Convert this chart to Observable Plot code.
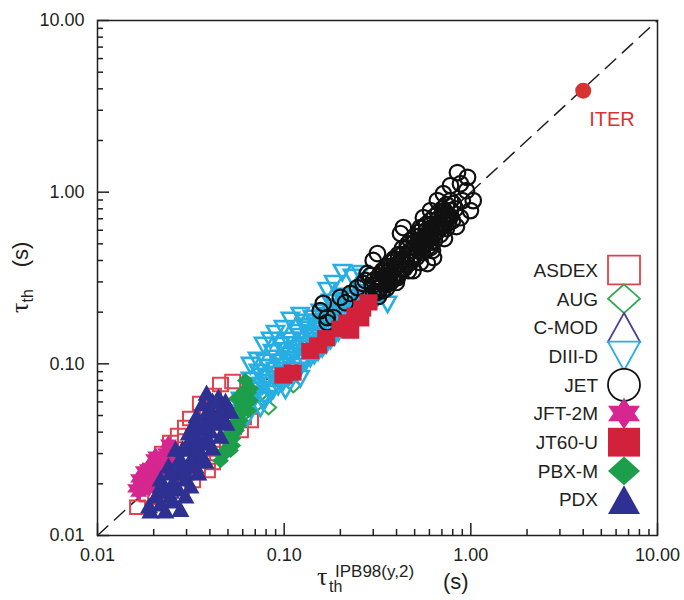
<!DOCTYPE html>
<html><head><meta charset="utf-8">
<script src="https://cdn.jsdelivr.net/npm/d3@7"></script>
<script src="https://cdn.jsdelivr.net/npm/@observablehq/plot@0.6"></script>
<style>body{margin:0;background:#fff}#chart{width:684px;height:600px}</style>
</head><body><div id="chart"></div>
<script>
// ---- data: [tau_IPB98, tau_th] in seconds ----
const deviceNames = ["ASDEX","AUG","C-MOD","DIII-D","JET","JFT-2M","JT60-U","PBX-M","PDX"];
const majorTicks = [0.01, 0.1, 1, 10];
const minorTicks = [0.02,0.03,0.04,0.05,0.06,0.07,0.08,0.09,0.2,0.3,0.4,0.5,0.6,0.7,0.8,0.9,2,3,4,5,6,7,8,9];
const diagonal = [0.01, 10];
const ITER = [[4.0, 3.9]];

const ASDEX = [[0.0164,0.0146],[0.0185,0.0173],[0.0205,0.0167],[0.0223,0.030],[0.0246,0.0348],[0.0271,0.0382],[0.0296,0.0426],[0.0356,0.0587],[0.0388,0.052],[0.0456,0.0757],[0.053,0.0788],[0.0281,0.0191],[0.0323,0.0209],[0.0388,0.0239],[0.044,0.030],[0.0497,0.0357],[0.0535,0.0426],[0.0605,0.0487],[0.066,0.0467],[0.0343,0.0233],[0.0413,0.0266],[0.0192,0.0239],[0.0213,0.0273],[0.0315,0.048],[0.0418,0.0653],[0.0583,0.0409],[0.0231,0.0171]];
const AUG = [[0.0825,0.0556],[0.112,0.0747],[0.0765,0.068],[0.093,0.0799],[0.122,0.1045],[0.149,0.1225],[0.177,0.146],[0.0702,0.0571],[0.062,0.052]];
const CMOD = [[0.0296,0.0239],[0.0335,0.0334],[0.0379,0.0437],[0.0246,0.0183]];
const DIIID = [[0.0702,0.0653],[0.0765,0.0747],[0.0815,0.082],[0.0898,0.0914],[0.0979,0.102],[0.108,0.112],[0.120,0.1225],[0.130,0.137],[0.1415,0.150],[0.156,0.165],[0.173,0.184],[0.192,0.201],[0.210,0.222],[0.232,0.243],[0.256,0.26],
 [0.0765,0.0611],[0.0845,0.067],[0.093,0.0737],[0.105,0.082],[0.117,0.0914],[0.130,0.102],[0.145,0.112],[0.16,0.1225],[0.177,0.137],[0.195,0.152],[0.221,0.174],[0.25,0.199],[0.283,0.228],[0.32,0.247],
 [0.066,0.0799],[0.0728,0.089],[0.0794,0.102],[0.0866,0.116],[0.0955,0.128],[0.105,0.137],[0.117,0.152],[0.128,0.165],[0.1415,0.184],[0.156,0.199],[0.177,0.228],[0.2,0.247],
 [0.205,0.34],[0.184,0.293],[0.256,0.335],[0.232,0.319],[0.17,0.267],[0.13,0.174],[0.099,0.16],[0.0898,0.150],[0.0845,0.137],[0.0719,0.1045],[0.066,0.0977],[0.0775,0.128],[0.108,0.179],[0.122,0.191],
 [0.34,0.257],[0.358,0.222],[0.308,0.234],
 [0.0635,0.0487],[0.0562,0.0409],[0.066,0.0571],[0.1016,0.0699],[0.122,0.082],[0.0583,0.0611],
 [0.0728,0.0699],[0.0803,0.0778],[0.0866,0.0866],[0.0944,0.0964],[0.1029,0.106],[0.1132,0.116],[0.1234,0.129],[0.1364,0.142],[0.149,0.156],[0.164,0.174],[0.181,0.194],[0.2,0.213],[0.221,0.234],[0.244,0.253],
 [0.0794,0.0627],[0.0877,0.0708],[0.099,0.0788],[0.111,0.0866],[0.1234,0.0964],[0.138,0.1075],[0.152,0.117],[0.168,0.129],[0.186,0.144],[0.208,0.163],[0.235,0.186],[0.265,0.213],
 [0.0685,0.0747],[0.0756,0.0844],[0.0825,0.0952],[0.0909,0.1075],[0.1004,0.119],[0.1132,0.129],[0.122,0.144],[0.1348,0.159],[0.149,0.174],[0.166,0.191],[0.188,0.213],[0.213,0.234],
 [0.0746,0.0549],[0.066,0.0653],[0.0598,0.052],[0.0555,0.0467]];
const JET = [[0.297,0.286],[0.32,0.306],[0.345,0.323],[0.328,0.279],[0.362,0.349],[0.38,0.314],[0.394,0.374],[0.409,0.336],[0.42,0.40],[0.441,0.359],[0.457,0.427],[0.475,0.389],[0.487,0.457],[0.511,0.416],[0.524,0.489],[0.55,0.445],[0.564,0.523],[0.593,0.482],[0.608,0.567],[0.638,0.523],[0.654,0.614],[0.687,0.567],[0.705,0.665],[0.74,0.614],[0.759,0.731],[0.797,0.683],[0.827,0.80],[0.722,0.781],[0.67,0.70],[0.578,0.598],[0.499,0.51],[0.43,0.433],[0.371,0.369],[0.353,0.29],[0.399,0.298],[0.463,0.349],[0.537,0.389],[0.623,0.457],[0.722,0.537],[0.837,0.631],
 [0.337,0.34],[0.389,0.40],[0.457,0.47],[0.524,0.552],[0.608,0.648],[0.705,0.76],[0.312,0.26],[0.362,0.306],[0.42,0.359],[0.487,0.421],[0.564,0.496],[0.654,0.582],[0.759,0.665],
 [0.848,1.30],[0.96,1.22],[0.88,1.12],[1.03,0.893],[0.713,0.98],[0.662,0.893],[0.807,0.856],[0.88,0.71],[0.608,0.781],[0.557,0.71],[0.537,0.622],[0.435,0.622],[0.42,0.574],[0.608,0.476],[0.631,0.416],[0.585,0.384],[0.49,0.349],[0.404,0.318],[0.358,0.294],[0.316,0.439],[0.30,0.40],[0.279,0.336],[0.265,0.294],[0.162,0.225],[0.156,0.204],[0.17,0.186],[0.17,0.174],[0.2,0.244],[0.226,0.257],[0.247,0.278],[0.272,0.306],[0.29,0.327],[0.948,1.02],[0.995,0.781],[0.90,0.893],[0.778,1.092],[0.184,0.186],[0.213,0.227],
 [0.301,0.306],[0.301,0.26],[0.32,0.323],[0.32,0.275],[0.32,0.247],[0.337,0.349],[0.337,0.298],[0.337,0.267],[0.353,0.369],[0.353,0.314],[0.353,0.275],[0.371,0.389],[0.371,0.331],[0.371,0.298],[0.389,0.41],[0.389,0.359],[0.389,0.314],[0.409,0.433],[0.409,0.379],[0.409,0.331],[0.43,0.47],[0.43,0.40],[0.43,0.359],[0.457,0.496],[0.457,0.433],[0.457,0.379],[0.475,0.523],[0.475,0.457],[0.475,0.41],[0.499,0.552],[0.499,0.482],[0.499,0.433],[0.524,0.582],[0.524,0.509],[0.524,0.457],[0.55,0.614],[0.55,0.537],[0.55,0.482],[0.578,0.648],[0.578,0.567],[0.578,0.509],[0.608,0.683],[0.608,0.598],[0.608,0.537],[0.638,0.721],[0.638,0.631],[0.638,0.567],[0.67,0.761],[0.67,0.665],[0.67,0.598],[0.705,0.80],[0.705,0.70],[0.705,0.631],[0.74,0.846],[0.74,0.741],[0.74,0.683],[0.778,0.893],[0.778,0.781],[0.778,0.721]];
const JFT2M = [[0.017,0.0196],[0.0181,0.0215],[0.0192,0.0233],[0.0205,0.0256],[0.0218,0.0281],[0.0231,0.0305],[0.0246,0.0326],[0.0166,0.0215],[0.0189,0.0188],[0.0197,0.0209],[0.0213,0.0233],[0.0176,0.0239],[0.0223,0.0256],[0.0205,0.0292],[0.024,0.0273],
 [0.016,0.0188],[0.0174,0.0209],[0.0192,0.0215],[0.0185,0.0246],[0.0205,0.0239],[0.0218,0.0266],[0.02,0.0281],[0.0226,0.0292],[0.0246,0.0305],[0.024,0.0343],[0.0166,0.0178],[0.0181,0.0188]];
const JT60U = [[0.099,0.0855],[0.111,0.089],[0.138,0.119],[0.152,0.128],[0.168,0.141],[0.2,0.16],[0.218,0.174],[0.241,0.191],[0.262,0.21],[0.283,0.228],[0.256,0.184],[0.226,0.156]];
const PBXM = [[0.0467,0.0292],[0.0503,0.0326],[0.053,0.0367],[0.0555,0.0409],[0.0583,0.0467],[0.0605,0.0534],[0.0628,0.0611],[0.0644,0.068],[0.0569,0.0534],[0.053,0.0437],[0.0491,0.0357],[0.0612,0.0699],[0.066,0.0611],[0.0555,0.0627],[0.0516,0.0313],
 [0.0485,0.0313],[0.053,0.0334],[0.0516,0.0398],[0.0569,0.0437],[0.0548,0.05],[0.0598,0.0571],[0.0644,0.0534],[0.0583,0.0653],[0.066,0.0718],[0.062,0.0799],[0.0456,0.0273]];
const PDX = [[0.0189,0.015],[0.0218,0.0154],[0.0252,0.016],[0.0231,0.0183],[0.0218,0.0215],[0.0252,0.0204],[0.0271,0.0239],[0.024,0.0256],[0.0278,0.0281],[0.0308,0.0266],[0.0285,0.0321],[0.0315,0.0334],[0.0335,0.0305],[0.0347,0.0367],[0.0308,0.0398],[0.0323,0.0437],[0.0356,0.0421],[0.0379,0.048],[0.0339,0.05],[0.0393,0.0549],[0.0413,0.0611],[0.0445,0.0645],[0.0467,0.0571],[0.0429,0.048],[0.0403,0.0409],[0.0379,0.0348],[0.0356,0.0292],[0.0335,0.0256],[0.0296,0.0215],[0.0271,0.0188],[0.0413,0.052],[0.0456,0.05],[0.0485,0.0611],[0.0365,0.059],[0.0384,0.068],[0.0262,0.0321],
 [0.0192,0.014],[0.0231,0.014],[0.0278,0.0143],[0.0205,0.0171],[0.0246,0.0171],[0.0296,0.0171],[0.0218,0.0196],[0.0262,0.0196],[0.0315,0.0196],[0.0246,0.0233],[0.0296,0.0233],[0.0347,0.0233],[0.0271,0.0273],[0.0323,0.0273],[0.0379,0.0273],[0.0296,0.0326],[0.0347,0.0326],[0.0413,0.0326],[0.0327,0.0382],[0.0384,0.0382],[0.0456,0.0382],[0.0356,0.0455],[0.0418,0.0455],[0.0491,0.0455],[0.0403,0.0534],[0.0467,0.0534],[0.0434,0.0611],[0.0516,0.0534]];

// ---- symbols ----
const SY = 0.9;
function sym(f){ return {draw(c, size){ f(c, Math.sqrt(size/Math.PI)); }}; }
const SQ = sym((c,r)=>{c.moveTo(-r,-r*SY);c.lineTo(r,-r*SY);c.lineTo(r,r*SY);c.lineTo(-r,r*SY);c.closePath();});
const DIA = sym((c,r)=>{c.moveTo(0,-r*SY);c.lineTo(r,0);c.lineTo(0,r*SY);c.lineTo(-r,0);c.closePath();});
const TUP = sym((c,r)=>{c.moveTo(0,-r*SY);c.lineTo(r,r*SY);c.lineTo(-r,r*SY);c.closePath();});
const TDN = sym((c,r)=>{c.moveTo(0,r*SY);c.lineTo(r,-r*SY);c.lineTo(-r,-r*SY);c.closePath();});
const CIR = sym((c,r)=>{c.moveTo(r,0);c.arc(0,0,r,0,2*Math.PI);c.closePath();});
const STAR = sym((c,r)=>{const R=r*1.1547;for(let k=0;k<12;k++){const a=-Math.PI/2+k*Math.PI/6, rr=k%2?R*0.577:R;const px=rr*Math.cos(a), py=rr*Math.sin(a)*0.85; k?c.lineTo(px,py):c.moveTo(px,py);}c.closePath();});

const series = [
  {name:"ASDEX", data:ASDEX, sym:SQ, color:"#e2404c", filled:false, r:7.5, sw:2},
  {name:"AUG", data:AUG, sym:DIA, color:"#2ea84f", filled:false, r:7.5, sw:2},
  {name:"C-MOD", data:CMOD, sym:TUP, color:"#4b3f9c", filled:false, r:8, sw:2},
  {name:"DIII-D", data:DIIID, sym:TDN, color:"#27aee3", filled:false, r:8.5, sw:2.6},
  {name:"JET", data:JET, sym:CIR, color:"#111111", filled:false, r:7.8, sw:2.2},
  {name:"JFT-2M", data:JFT2M, sym:STAR, color:"#d6268f", filled:true, r:8.5},
  {name:"JT60-U", data:JT60U, sym:SQ, color:"#d2213a", filled:true, r:9},
  {name:"PBX-M", data:PBXM, sym:DIA, color:"#1c9e4b", filled:true, r:8.5},
  {name:"PDX", data:PDX, sym:TUP, color:"#2e3191", filled:true, r:9}
];

const W=684, H=600, mL=97, mR=27, mT=20, mB=65;
const fW = W-mL-mR, fH = H-mT-mB;
const ink = "#231f20";
const font = "'Liberation Sans', Arial, Helvetica, sans-serif";

const svg = Plot.plot({
  width: W, height: H,
  marginLeft: mL, marginRight: mR, marginTop: mT, marginBottom: mB,
  style: {fontFamily: font, color: ink, background: "#fff", overflow: "visible"},
  x: {type: "log", domain: [0.01, 10], axis: null},
  y: {type: "log", domain: [0.01, 10], axis: null},
  marks: [
    Plot.line(diagonal, {x: d=>d, y: d=>d, stroke: ink, strokeWidth: 1.5, strokeDasharray: "14,9"}),
    ...series.map(s => Plot.dot(s.data, {x: d=>d[0], y: d=>d[1], symbol: s.sym, r: s.r,
        fill: s.filled ? s.color : "none", stroke: s.filled ? "none" : s.color, strokeWidth: s.sw || 1.5})),
    Plot.dot(ITER, {x: d=>d[0], y: d=>d[1], r: 8, fill: "#d63333"}),
    Plot.text(ITER, {x: d=>d[0], y: d=>d[1], text: () => "ITER", textAnchor: "start", dx: 6, dy: 29, fill: "#d63333", fontSize: 20}),
    Plot.tickX(minorTicks, {x: d=>d, insetTop: fH-6, stroke: ink, strokeWidth: 1.5}),
    Plot.tickX(majorTicks, {x: d=>d, insetTop: fH-12, stroke: ink, strokeWidth: 1.5}),
    Plot.tickY(minorTicks, {y: d=>d, insetRight: fW-6, stroke: ink, strokeWidth: 1.5}),
    Plot.tickY(majorTicks, {y: d=>d, insetRight: fW-12, stroke: ink, strokeWidth: 1.5}),
    Plot.axisX(majorTicks, {tickSize: 0, tickPadding: 13, tickFormat: d3.format(".2f"), fontSize: 18, label: null, fill: ink}),
    Plot.axisY(majorTicks, {tickSize: 0, tickPadding: 13, tickFormat: d3.format(".2f"), fontSize: 18, label: null, fill: ink}),
    Plot.frame({stroke: ink, strokeWidth: 1.5})
  ]
});

const S = d3.select(svg);
// legend
const lg = S.append("g").attr("font-family", font).attr("font-size", 19).attr("fill", ink);
const legTop = 270, legStep = 28.7, legSymX = 624, legTextX = 598;
series.forEach((s, i) => {
  const yy = legTop + i*legStep;
  lg.append("text").attr("x", legTextX).attr("y", yy).attr("dy", "0.36em").attr("text-anchor", "end").text(s.name);
  lg.append("path").attr("transform", `translate(${legSymX},${yy})`)
    .attr("d", d3.symbol(s.sym, Math.PI*16*16)())
    .attr("fill", s.filled ? s.color : "#fff").attr("stroke", s.filled ? "none" : s.color).attr("stroke-width", 1.8);
});
// axis titles
const yt = S.append("text").attr("transform", "translate(28,313) rotate(-90)").attr("text-anchor", "start").attr("font-family", font).attr("fill", ink);
yt.append("tspan").attr("font-size", 26).attr("font-family", "'Liberation Serif', serif").text("τ");
yt.append("tspan").attr("font-size", 16).attr("dy", 5).text("th");
yt.append("tspan").attr("font-size", 22).attr("dy", -5).attr("dx", 22).text("(s)");

const xt = S.append("text").attr("text-anchor", "start").attr("font-family", font).attr("fill", ink);
xt.append("tspan").attr("x", 317).attr("y", 585).attr("font-size", 26).attr("font-family", "'Liberation Serif', serif").text("τ");
xt.append("tspan").attr("x", 329).attr("y", 592).attr("font-size", 16).text("th");
xt.append("tspan").attr("x", 335).attr("y", 577).attr("font-size", 17).text("IPB98(y,2)");
xt.append("tspan").attr("x", 443).attr("y", 589).attr("font-size", 22).text("(s)");

document.getElementById("chart").appendChild(svg);
</script>
</body></html>
